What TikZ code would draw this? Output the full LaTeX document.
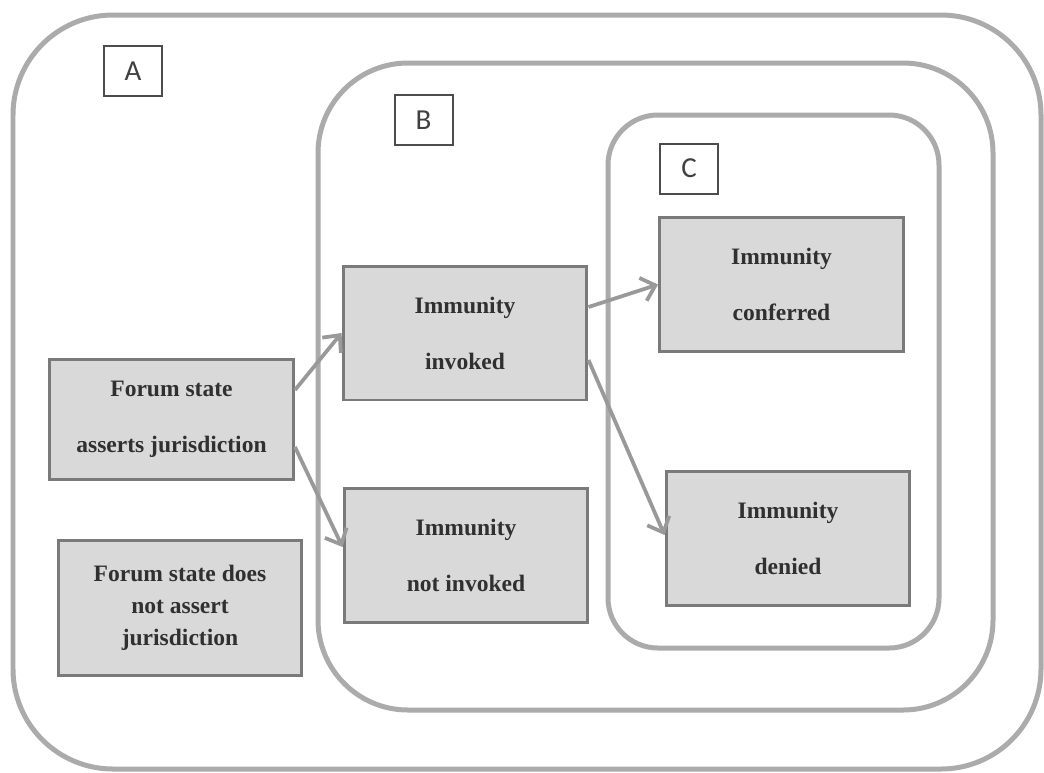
\documentclass[tikz,border=0pt]{standalone}
\usepackage{fontspec}
\setmainfont{Liberation Serif}
\newfontfamily\tagfont{Carlito}
\usetikzlibrary{arrows.meta}

\definecolor{ringgray}{HTML}{ABABAB}
\definecolor{boxfill}{HTML}{D9D9D9}
\definecolor{boxline}{HTML}{7A7A7A}
\definecolor{inkgray}{HTML}{303030}
\definecolor{arrowgray}{HTML}{999999}

\begin{document}
\begin{tikzpicture}[x=0.02cm, y=-0.02cm,
  region/.style={draw=ringgray, line width=0.1cm},
  state/.style={draw=boxline, fill=boxfill, line width=0.06cm, align=center,
    text=inkgray, inner sep=0pt, minimum width=4.88cm, minimum height=2.68cm,
    font=\fontsize{13.4}{31.9}\selectfont\bfseries},
  tag/.style={draw=black!70, line width=0.04cm, inner sep=0pt,
    minimum width=1.16cm, minimum height=1cm, text=black!75,
    font=\tagfont\fontsize{16.5}{18}\selectfont},
  arr/.style={draw=arrowgray, line width=0.075cm,
    -{Straight Barb[length=0.26cm, width=0.48cm]}}]
  \useasboundingbox (0,0) rectangle (1044,772);

  % nested regions
  \draw[region, rounded corners=2cm]   (13,15)  rectangle (1041,769);
  \draw[region, rounded corners=1.8cm] (318,63) rectangle (993,710);
  \draw[region, rounded corners=1cm]   (608,115) rectangle (939,648);

  % region tags
  \node[tag] (tagA) at (133,71)    {A};
  \node[tag] (tagB) at (423.5,120) {B};
  \node[tag] (tagC) at (689,168.5) {C};

  % outcomes
  \node[state, minimum height=2.4cm] (assert) at (171.5,419)
    {Forum state\\asserts jurisdiction};
  \node[state, minimum height=2.7cm, font=\fontsize{13.4}{18.2}\selectfont\bfseries]
    (noassert) at (180,607.5) {Forum state does\\not assert\\jurisdiction};
  \node[state] (invoked)    at (465,333)     {Immunity\\invoked};
  \node[state] (notinvoked) at (466,555)     {Immunity\\not invoked};
  \node[state] (conferred)  at (781.5,284.5) {Immunity\\conferred};
  \node[state] (denied)     at (788,538)     {Immunity\\denied};

  % transitions
  \draw[arr] ([yshift=0.58cm]assert.east)  -- (invoked.west);
  \draw[arr] ([yshift=-0.56cm]assert.east) -- ([yshift=0.16cm]notinvoked.west);
  \draw[arr] ([yshift=0.52cm]invoked.east) -- (conferred.west);
  \draw[arr] ([yshift=-0.54cm]invoked.east) -- ([yshift=0.06cm]denied.west);
\end{tikzpicture}
\end{document}
